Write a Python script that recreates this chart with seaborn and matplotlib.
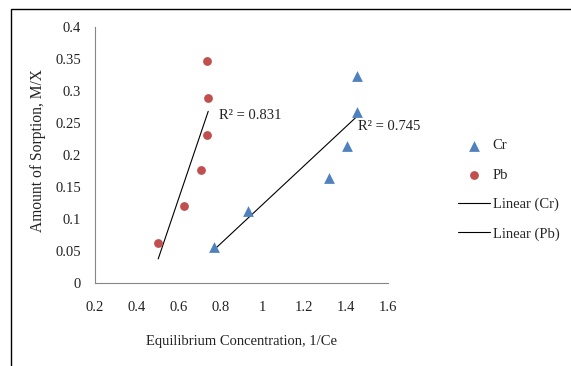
import numpy as np
import pandas as pd
import matplotlib
matplotlib.use("Agg")
import matplotlib.pyplot as plt
import seaborn as sns
from matplotlib.patches import Rectangle

# Data
cr_x = [0.767, 0.933, 1.316, 1.404, 1.452, 1.452]
cr_y = [0.057, 0.112, 0.164, 0.215, 0.268, 0.324]
pb_x = [0.502, 0.625, 0.708, 0.737, 0.741, 0.737]
pb_y = [0.063, 0.120, 0.176, 0.232, 0.290, 0.348]
r2_cr = "R² = 0.745"
r2_pb = "R² = 0.831"
x_ticks = [0.2, 0.4, 0.6, 0.8, 1.0, 1.2, 1.4, 1.6]
x_tick_labels = ["0.2", "0.4", "0.6", "0.8", "1", "1.2", "1.4", "1.6"]
y_ticks = [0, 0.05, 0.1, 0.15, 0.2, 0.25, 0.3, 0.35, 0.4]
y_tick_labels = ["0", "0.05", "0.1", "0.15", "0.2", "0.25", "0.3", "0.35", "0.4"]

sns.set_style("white")
plt.rcParams['font.family'] = ['Liberation Serif', 'DejaVu Serif']
plt.rcParams['font.size'] = 10.5

fig = plt.figure(figsize=(5.71, 3.66), dpi=100)
ax = fig.add_axes([0.1664, 0.2268, 0.5131, 0.6986])

blue = "#4F81BD"
red = "#C0504D"

cr_df = pd.DataFrame({"x": cr_x, "y": cr_y})
pb_df = pd.DataFrame({"x": pb_x, "y": pb_y})

sns.scatterplot(data=cr_df, x="x", y="y", ax=ax, marker="^", color=blue,
                s=60, edgecolor=blue, linewidth=0, label="Cr", zorder=3)
sns.scatterplot(data=pb_df, x="x", y="y", ax=ax, marker="o", color=red,
                s=40, edgecolor=red, linewidth=0, label="Pb", zorder=3)
sns.regplot(data=cr_df, x="x", y="y", ax=ax, scatter=False, ci=None,
            label="Linear (Cr)", line_kws={"color": "black", "lw": 0.8})
sns.regplot(data=pb_df, x="x", y="y", ax=ax, scatter=False, ci=None,
            label="Linear (Pb)", line_kws={"color": "black", "lw": 0.8})

ax.set_xlim(0.2, 1.6)
ax.set_ylim(0, 0.4)
ax.set_xticks(x_ticks)
ax.set_xticklabels(x_tick_labels)
ax.set_yticks(y_ticks)
ax.set_yticklabels(y_tick_labels)

for s in ["top", "right"]:
    ax.spines[s].set_visible(False)
for s in ["left", "bottom"]:
    ax.spines[s].set_color("#868686")
    ax.spines[s].set_linewidth(0.8)
ax.tick_params(axis="both", direction="out", length=4, width=0.8,
               color="#868686", labelsize=10.5, labelcolor="#222222")
ax.tick_params(axis="y", pad=6)
ax.tick_params(axis="x", pad=9)

ax.set_xlabel("Equilibrium Concentration, 1/Ce", fontsize=10.5, labelpad=15, color="#222222")
ax.set_ylabel("Amount of Sorption, M/X", fontsize=11.2, color="#222222")
ax.yaxis.set_label_coords(-0.168, 0.52)

ax.text(0.792, 0.262, r2_pb, fontsize=10.5, va="center", ha="left", color="#222222")
ax.text(1.457, 0.245, r2_cr, fontsize=10.5, va="center", ha="left", color="#222222")

handles, labels = ax.get_legend_handles_labels()
hmap = dict(zip(labels, handles))
order = [k for k in ["Cr", "Pb", "Linear (Cr)", "Linear (Pb)"] if k in hmap]
leg = ax.get_legend()
if leg is not None:
    leg.remove()
fig.legend([hmap[k] for k in order], order, loc="center left",
           bbox_to_anchor=(0.789, 0.481), frameon=False, borderpad=0,
           handlelength=2.2, handletextpad=0.2, labelspacing=1.1,
           fontsize=10.5)

fig.patches.append(Rectangle((11 / 571, -0.1), 1.2, 1 - 9 / 366 + 0.1,
                             transform=fig.transFigure, fill=False,
                             edgecolor="black", linewidth=1.0))

fig.savefig("out.png", dpi=100)
